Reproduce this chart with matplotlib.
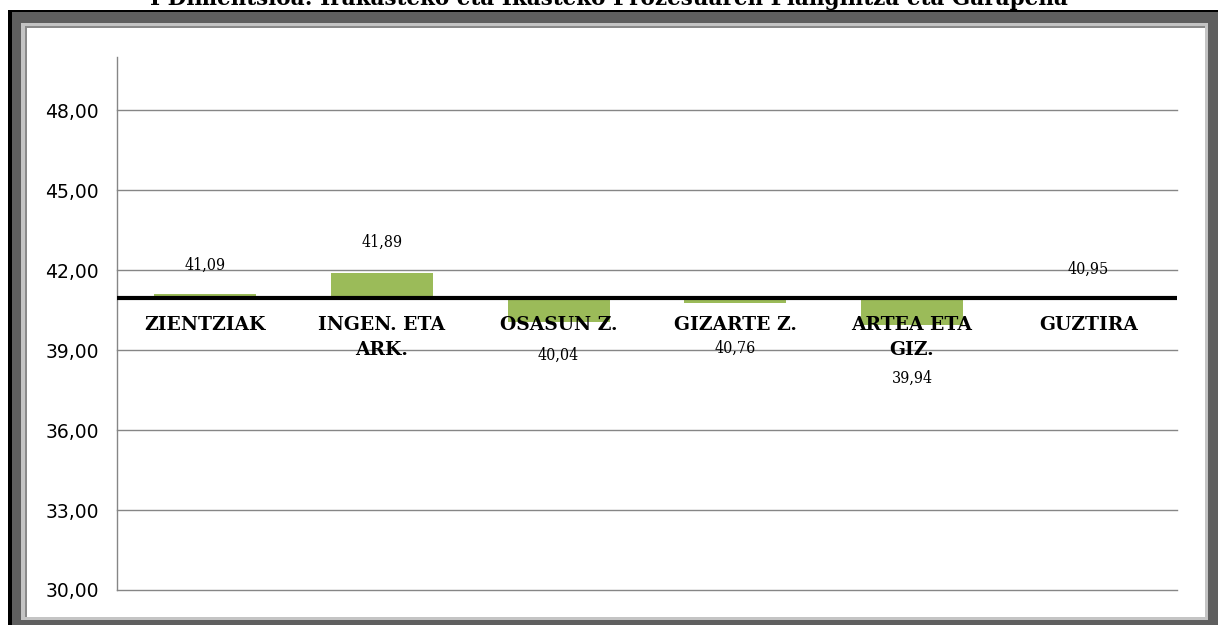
import matplotlib
matplotlib.use("Agg")
import matplotlib.pyplot as plt
from matplotlib.patches import Rectangle

# ---- data ----
categories = ["ZIENTZIAK", "INGEN. ETA\nARK.", "OSASUN Z.", "GIZARTE Z.", "ARTEA ETA\nGIZ.", "GUZTIRA"]
values = [41.09, 41.89, 40.04, 40.76, 39.94, 40.95]
value_labels = ["41,09", "41,89", "40,04", "40,76", "39,94", "40,95"]
baseline = 40.95
y_ticks = [30, 33, 36, 39, 42, 45, 48]
y_tick_labels = ["30,00", "33,00", "36,00", "39,00", "42,00", "45,00", "48,00"]
title = "I Dimentsioa: Irakasteko eta Ikasteko Prozesuaren Plangintza eta Garapena"

# ---- style ----
label_offsets_px = [-29, -31, 33, 45, 53, -29]  # vertical pixel offset of value labels from bar end
W, H = 1218, 625
fig = plt.figure(figsize=(W / 100, H / 100), dpi=100)
fig.patch.set_facecolor("white")

def rect(x0, y0, x1, y1, color):
    # pixel coords, y from top
    fig.add_artist(Rectangle((x0 / W, 1 - y1 / H), (x1 - x0) / W, (y1 - y0) / H,
                             transform=fig.transFigure, facecolor=color,
                             edgecolor="none", zorder=0))

rect(8, 10, 1230, 640, "black")
rect(12, 12, 1230, 640, "#5f5f5f")
rect(21, 23, 1208, 620, "#c4c4c4")
rect(25, 26, 1205, 617, "#8a8a8a")
rect(27, 28, 1205, 617, "white")

fig.text(0.5, 1 - 5 / H, title, ha="center", va="baseline",
         fontsize=15.5, fontweight="bold", family="DejaVu Serif")

ax = fig.add_axes([117 / W, 1 - 590 / H, 1060 / W, 533 / H])
ax.set_facecolor("none")
ax.set_xlim(-0.5, len(categories) - 0.5)
ax.set_ylim(30, 50)

for y in y_ticks:
    ax.axhline(y, color="#868686", lw=1.0, zorder=1, clip_on=False)

x = list(range(len(categories)))
heights = [v - baseline for v in values]
ax.bar(x, heights, bottom=baseline, width=0.577, color="#9BBB59", zorder=2)
ax.axhline(baseline, color="black", lw=3.0, zorder=3)

for i, (v, lab, off) in enumerate(zip(values, value_labels, label_offsets_px)):
    ax.annotate(lab, xy=(i, v), xytext=(0, -off * 0.72), textcoords="offset points",
                ha="center", va="center", fontsize=11.5, family="DejaVu Serif",
                fontstretch="condensed", zorder=4)

for i, cat in enumerate(categories):
    ax.annotate(cat, xy=(i, baseline), xytext=(0, -13), textcoords="offset points",
                ha="center", va="top", fontsize=13.5, fontweight="bold",
                family="DejaVu Serif", linespacing=1.5, zorder=4)

ax.set_yticks(y_ticks)
ax.set_yticklabels(y_tick_labels, fontsize=13.5, family="DejaVu Sans")
ax.tick_params(axis="y", length=0, pad=13)
ax.set_xticks([])
for s in ["top", "right", "bottom"]:
    ax.spines[s].set_visible(False)
ax.spines["left"].set_color("#868686")
ax.spines["left"].set_linewidth(1.0)

fig.savefig("out.png", dpi=100)
